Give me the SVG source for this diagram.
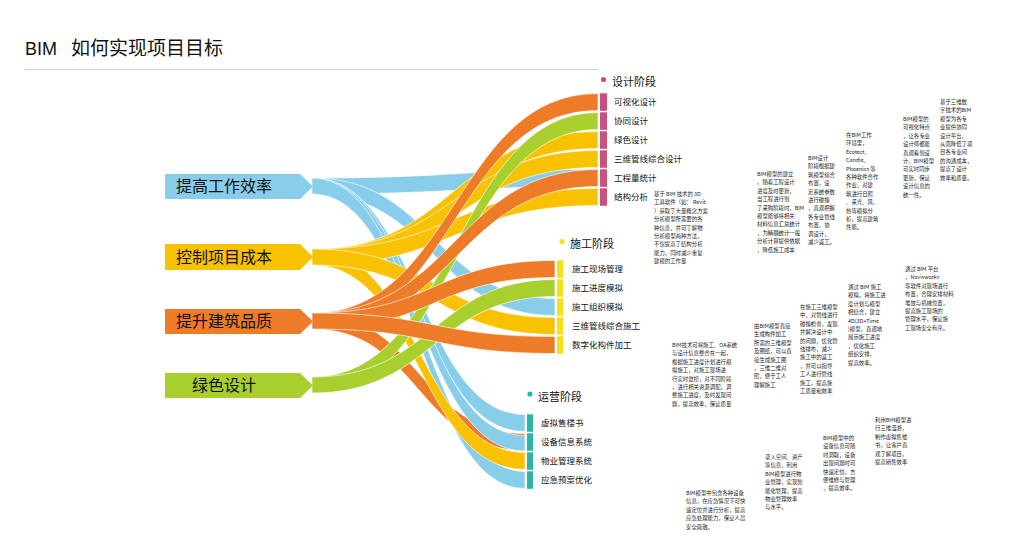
<svg xmlns="http://www.w3.org/2000/svg" width="1024" height="537" viewBox="0 0 1024 537">
<style>
.title{font-family:"Liberation Sans","Noto Sans CJK SC",sans-serif;font-size:18px;fill:#111}
.node{font-family:"Noto Sans CJK SC",sans-serif;font-size:16px;fill:#111;text-anchor:middle}
.hdr{font-family:"Noto Sans CJK SC",sans-serif;font-size:11px;fill:#111}
.lbl{font-family:"Noto Sans CJK SC",sans-serif;font-size:8.5px;fill:#111}
.note{font-family:"Noto Sans CJK SC",sans-serif;font-size:5.4px;fill:#222}
.f{stroke:#fff;stroke-width:0.8;stroke-opacity:0.8}
.b{fill:#88cdea}.y{fill:#f8c200}.o{fill:#ee7b28}.g{fill:#a8cf2e}
.pk{fill:#c8527f}.yl{fill:#f4e11a}.tl{fill:#2ab3a6}
</style>
<rect width="1024" height="537" fill="#fff"/>
<text class="title" x="25" y="55">BIM</text>
<text class="title" x="71" y="55" style="font-size:19px">如何实现项目目标</text>
<line x1="25" y1="69.5" x2="598" y2="69.5" stroke="#cfcfcf" stroke-width="1"/>

<g id="connectors">
<path class="f b" d="M312,178 C455,178 455,169.5 598,169.5 L598,186.5 C455,186.5 455,194 312,194 Z"/>
<path class="f b" d="M312,178 C434,178 434,298.5 555,298.5 L555,315.5 C434,315.5 434,194 312,194 Z"/>
<path class="f b" d="M312,178 C419,178 419,414.5 525,414.5 L525,431.5 C419,431.5 419,194 312,194 Z"/>
<path class="f o" d="M312,313 C419,313 419,433.5 525,433.5 L525,450.5 C419,450.5 419,329 312,329 Z"/>
<path class="f b" d="M312,178 C419,178 419,435.5 525,435.5 L525,451 C419,451 419,194 312,194 Z"/>
<path class="f b" d="M312,178 C419,178 419,471.5 525,471.5 L525,488.5 C419,488.5 419,194 312,194 Z"/>
<path class="f y" d="M312,249 C419,249 419,452.5 525,452.5 L525,469.5 C419,469.5 419,265 312,265 Z"/>
<path class="f y" d="M312,249 C455,249 455,131.5 598,131.5 L598,148.5 C455,148.5 455,265 312,265 Z"/>
<path class="f y" d="M312,249 C455,249 455,150.5 598,150.5 L598,167.5 C455,167.5 455,265 312,265 Z"/>
<path class="f y" d="M312,249 C455,249 455,188.5 598,188.5 L598,205.5 C455,205.5 455,265 312,265 Z"/>
<path class="f y" d="M312,249 C434,249 434,317.5 555,317.5 L555,334.5 C434,334.5 434,265 312,265 Z"/>
<path class="f g" d="M312,377 C455,377 455,112.5 598,112.5 L598,129.5 C455,129.5 455,393 312,393 Z"/>
<path class="f g" d="M312,377 C434,377 434,279.5 555,279.5 L555,296.5 C434,296.5 434,393 312,393 Z"/>
<path class="f o" d="M312,313 C455,313 455,93.5 598,93.5 L598,110.5 C455,110.5 455,329 312,329 Z"/>
<path class="f o" d="M312,313 C455,313 455,169.5 598,169.5 L598,186.5 C455,186.5 455,329 312,329 Z"/>
<path class="f o" d="M312,313 C434,313 434,260.5 555,260.5 L555,277.5 C434,277.5 434,329 312,329 Z"/>
<path class="f o" d="M312,313 C434,313 434,336.5 555,336.5 L555,353.5 C434,353.5 434,329 312,329 Z"/>
</g>

<g id="node-efficiency"><path class="b" d="M165,174 H300 L313,186.5 L300,199 H165 Z"/><text class="node" x="224" y="192">提高工作效率</text></g>
<g id="node-cost"><path class="y" d="M165,244 H300 L313,257 L300,270 H165 Z"/><text class="node" x="224" y="263">控制项目成本</text></g>
<g id="node-quality"><path class="o" d="M165,309 H300 L313,321.5 L300,334 H165 Z"/><text class="node" x="224" y="327">提升建筑品质</text></g>
<g id="node-green"><path class="g" d="M165,373 H300 L313,385.5 L300,398 H165 Z"/><text class="node" x="224" y="391">绿色设计</text></g>

<g id="stage-design">
<circle cx="603.5" cy="79.5" r="2.6" class="pk"/>
<text class="hdr" x="612" y="86">设计阶段</text>
<rect class="pk" x="600" y="93.3" width="7" height="17.5"/>
<rect class="pk" x="600" y="112.3" width="7" height="17.5"/>
<rect class="pk" x="600" y="131.3" width="7" height="17.5"/>
<rect class="pk" x="600" y="150.3" width="7" height="17.5"/>
<rect class="pk" x="600" y="169.3" width="7" height="17.5"/>
<rect class="pk" x="600" y="188.3" width="7" height="17.5"/>
<text class="lbl" x="614" y="105">可视化设计</text>
<text class="lbl" x="614" y="124">协同设计</text>
<text class="lbl" x="614" y="143">绿色设计</text>
<text class="lbl" x="614" y="162">三维管线综合设计</text>
<text class="lbl" x="614" y="181">工程量统计</text>
<text class="lbl" x="614" y="200">结构分析</text>
</g>

<g id="stage-construction">
<circle cx="562" cy="241.5" r="2.6" class="yl"/>
<text class="hdr" x="570" y="248">施工阶段</text>
<rect class="yl" x="557" y="260.3" width="6" height="17.5"/>
<rect class="yl" x="557" y="279.3" width="6" height="17.5"/>
<rect class="yl" x="557" y="298.3" width="6" height="17.5"/>
<rect class="yl" x="557" y="317.3" width="6" height="17.5"/>
<rect class="yl" x="557" y="336.3" width="6" height="17.5"/>
<text class="lbl" x="572" y="272">施工现场管理</text>
<text class="lbl" x="572" y="291">施工进度模拟</text>
<text class="lbl" x="572" y="310">施工组织模拟</text>
<text class="lbl" x="572" y="329">三维管线综合施工</text>
<text class="lbl" x="572" y="348">数字化构件加工</text>
</g>

<g id="stage-operation">
<circle cx="530" cy="394" r="2.6" class="tl"/>
<text class="hdr" x="538" y="401">运营阶段</text>
<rect class="tl" x="527" y="414.3" width="6" height="17.5"/>
<rect class="tl" x="527" y="433.3" width="6" height="17.5"/>
<rect class="tl" x="527" y="452.3" width="6" height="17.5"/>
<rect class="tl" x="527" y="471.3" width="6" height="17.5"/>
<text class="lbl" x="541" y="426">虚拟售楼书</text>
<text class="lbl" x="541" y="445">设备信息系统</text>
<text class="lbl" x="541" y="464">物业管理系统</text>
<text class="lbl" x="541" y="483">应急预案优化</text>
</g>

<g id="notes">
<text class="note" x="654" y="196"><tspan x="654">基于 BIM 技术的 3D</tspan><tspan x="654" dy="8.4">工具软件（如： Revit</tspan><tspan x="654" dy="8.4">）获取了大量概念方案</tspan><tspan x="654" dy="8.4">分析模型所需要的各</tspan><tspan x="654" dy="8.4">种信息，并可了解物</tspan><tspan x="654" dy="8.4">分析模型两种方法，</tspan><tspan x="654" dy="8.4">不仅提高了结构分析</tspan><tspan x="654" dy="8.4">能力，同时减少重复</tspan><tspan x="654" dy="8.4">建模的工作量</tspan></text>
<text class="note" x="757" y="176"><tspan x="757">BIM模型的建立</tspan><tspan x="757" dy="8.4">，随着工程设计</tspan><tspan x="757" dy="8.4">进度及时更新，</tspan><tspan x="757" dy="8.4">当工程进行到</tspan><tspan x="757" dy="8.4">了采购阶段时，BIM</tspan><tspan x="757" dy="8.4">模型能够将相关</tspan><tspan x="757" dy="8.4">材料信息汇总统计</tspan><tspan x="757" dy="8.4">，为精确统计一般</tspan><tspan x="757" dy="8.4">分析计算提供依据</tspan><tspan x="757" dy="8.4">，降低施工成本</tspan></text>
<text class="note" x="808" y="160"><tspan x="808">BIM设计</tspan><tspan x="808" dy="8.4">阶段根据建</tspan><tspan x="808" dy="8.4">筑模型综合</tspan><tspan x="808" dy="8.4">布置，设</tspan><tspan x="808" dy="8.4">定系统参数</tspan><tspan x="808" dy="8.4">进行碰撞</tspan><tspan x="808" dy="8.4">，直观把握</tspan><tspan x="808" dy="8.4">各专业管线</tspan><tspan x="808" dy="8.4">布置，协</tspan><tspan x="808" dy="8.4">调设计，</tspan><tspan x="808" dy="8.4">减少返工。</tspan></text>
<text class="note" x="846" y="137"><tspan x="846">在BIM工作</tspan><tspan x="846" dy="8.4">环境里，</tspan><tspan x="846" dy="8.4">Ecotect、</tspan><tspan x="846" dy="8.4">Candle、</tspan><tspan x="846" dy="8.4">Phoenics 等</tspan><tspan x="846" dy="8.4">各种软件合作</tspan><tspan x="846" dy="8.4">作业，对建</tspan><tspan x="846" dy="8.4">筑进行日照</tspan><tspan x="846" dy="8.4">、采光、风、</tspan><tspan x="846" dy="8.4">热等模拟分</tspan><tspan x="846" dy="8.4">析，提高建筑</tspan><tspan x="846" dy="8.4">性能。</tspan></text>
<text class="note" x="903" y="121"><tspan x="903">BIM模型的</tspan><tspan x="903" dy="8.4">可视化特点</tspan><tspan x="903" dy="8.4">，让各专业</tspan><tspan x="903" dy="8.4">设计师都能</tspan><tspan x="903" dy="8.4">直观看到设</tspan><tspan x="903" dy="8.4">计，BIM模型</tspan><tspan x="903" dy="8.4">可实时同步</tspan><tspan x="903" dy="8.4">更新，保证</tspan><tspan x="903" dy="8.4">设计信息的</tspan><tspan x="903" dy="8.4">统一性。</tspan></text>
<text class="note" x="940" y="104"><tspan x="940">基于三维数</tspan><tspan x="940" dy="8.4">字技术的BIM</tspan><tspan x="940" dy="8.4">模型为各专</tspan><tspan x="940" dy="8.4">业提供协同</tspan><tspan x="940" dy="8.4">设计平台，</tspan><tspan x="940" dy="8.4">从而降低了项</tspan><tspan x="940" dy="8.4">目各专业间</tspan><tspan x="940" dy="8.4">的沟通成本，</tspan><tspan x="940" dy="8.4">提高了设计</tspan><tspan x="940" dy="8.4">效率和质量。</tspan></text>
<text class="note" x="672" y="347"><tspan x="672">BIM技术可将施工、OA系统</tspan><tspan x="672" dy="8.4">与设计信息整合在一起，</tspan><tspan x="672" dy="8.4">根据施工进度计划进行模</tspan><tspan x="672" dy="8.4">拟施工，对施工现场进</tspan><tspan x="672" dy="8.4">行实时监控，对不同阶段</tspan><tspan x="672" dy="8.4">，进行相关资源调配，调</tspan><tspan x="672" dy="8.4">整施工进度，及时发现问</tspan><tspan x="672" dy="8.4">题，提高效率，保证质量</tspan></text>
<text class="note" x="754" y="328"><tspan x="754">由BIM模型直接</tspan><tspan x="754" dy="8.4">生成构件加工</tspan><tspan x="754" dy="8.4">所需的三维模型</tspan><tspan x="754" dy="8.4">及图纸，可以直</tspan><tspan x="754" dy="8.4">接生成施工图</tspan><tspan x="754" dy="8.4">，三维二维对</tspan><tspan x="754" dy="8.4">照，便于工人</tspan><tspan x="754" dy="8.4">理解施工</tspan></text>
<text class="note" x="800" y="309"><tspan x="800">在施工三维模型</tspan><tspan x="800" dy="8.4">中，对管线进行</tspan><tspan x="800" dy="8.4">碰撞检查，发现</tspan><tspan x="800" dy="8.4">并解决设计中</tspan><tspan x="800" dy="8.4">的问题，优化管</tspan><tspan x="800" dy="8.4">线排布，减少</tspan><tspan x="800" dy="8.4">施工中的返工</tspan><tspan x="800" dy="8.4">，并可以指导</tspan><tspan x="800" dy="8.4">工人进行管线</tspan><tspan x="800" dy="8.4">施工，提高施</tspan><tspan x="800" dy="8.4">工质量和效率</tspan></text>
<text class="note" x="848" y="289"><tspan x="848">通过 BIM 施工</tspan><tspan x="848" dy="8.4">模拟，将施工进</tspan><tspan x="848" dy="8.4">度计划与模型</tspan><tspan x="848" dy="8.4">相结合，建立</tspan><tspan x="848" dy="8.4">4D(3D+Time</tspan><tspan x="848" dy="8.4">)模型，直观地</tspan><tspan x="848" dy="8.4">展示施工进度</tspan><tspan x="848" dy="8.4">，优化施工</tspan><tspan x="848" dy="8.4">组织安排，</tspan><tspan x="848" dy="8.4">提高效率。</tspan></text>
<text class="note" x="905" y="271"><tspan x="905">通过 BIM 平台</tspan><tspan x="905" dy="8.4">，Navisworks</tspan><tspan x="905" dy="8.4">等软件对现场进行</tspan><tspan x="905" dy="8.4">布置，合理安排材料</tspan><tspan x="905" dy="8.4">堆放与机械位置，</tspan><tspan x="905" dy="8.4">提高施工现场的</tspan><tspan x="905" dy="8.4">管理水平，保证施</tspan><tspan x="905" dy="8.4">工现场安全有序。</tspan></text>
<text class="note" x="686" y="495"><tspan x="686">BIM模型中包含各种设备</tspan><tspan x="686" dy="8.4">信息，在应急情况下可快</tspan><tspan x="686" dy="8.4">速定位并进行分析，提高</tspan><tspan x="686" dy="8.4">应急处理能力，保证人员</tspan><tspan x="686" dy="8.4">安全疏散。</tspan></text>
<text class="note" x="765" y="459"><tspan x="765">录入空间、资产</tspan><tspan x="765" dy="8.4">等信息，利用</tspan><tspan x="765" dy="8.4">BIM模型进行物</tspan><tspan x="765" dy="8.4">业管理，实现智</tspan><tspan x="765" dy="8.4">能化管理，提高</tspan><tspan x="765" dy="8.4">物业管理效率</tspan><tspan x="765" dy="8.4">与水平。</tspan></text>
<text class="note" x="823" y="440"><tspan x="823">BIM模型中的</tspan><tspan x="823" dy="8.4">设备信息可随</tspan><tspan x="823" dy="8.4">时调取，设备</tspan><tspan x="823" dy="8.4">出现问题时可</tspan><tspan x="823" dy="8.4">快速定位，方</tspan><tspan x="823" dy="8.4">便维修与管理</tspan><tspan x="823" dy="8.4">，提高效率。</tspan></text>
<text class="note" x="875" y="422"><tspan x="875">利用BIM模型进</tspan><tspan x="875" dy="8.4">行三维漫游，</tspan><tspan x="875" dy="8.4">制作虚拟售楼</tspan><tspan x="875" dy="8.4">书，让客户直</tspan><tspan x="875" dy="8.4">观了解项目，</tspan><tspan x="875" dy="8.4">提高销售效率</tspan></text>
</g>
</svg>
